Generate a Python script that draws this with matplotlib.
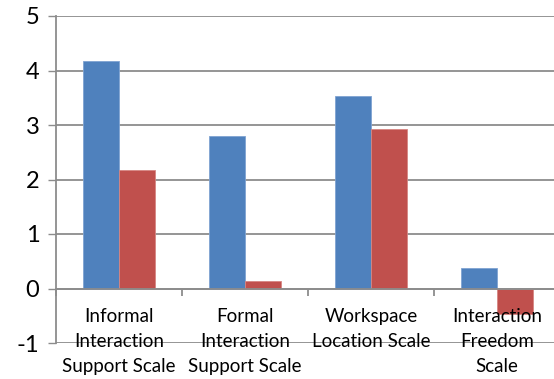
import numpy as np
import matplotlib
matplotlib.use("Agg")
import matplotlib.pyplot as plt

plt.rcParams['font.family'] = ['Lato', 'DejaVu Sans']

categories = ["Informal\nInteraction\nSupport Scale",
              "Formal\nInteraction\nSupport Scale",
              "Workspace\nLocation Scale",
              "Interaction\nFreedom\nScale"]
series_a = [4.17, 2.79, 3.54, 0.37]
series_b = [2.17, 0.13, 2.92, -0.46]
yticks = [-1, 0, 1, 2, 3, 4, 5]

blue = "#4F81BD"
red = "#C0504D"
grid = "#8C8C8C"

fig = plt.figure(figsize=(5.54, 3.79), dpi=100)
ax = fig.add_axes([56 / 554, (379 - 343) / 379, 504 / 554, 327 / 379])

x = np.arange(len(categories))
w = 0.285
ax.bar(x - w / 2, series_a, w, color=blue, edgecolor="#7FA3D2", linewidth=0.6, zorder=3)
ax.bar(x + w / 2, series_b, w, color=red, edgecolor="#D68683", linewidth=0.6, zorder=3)

ax.set_xlim(-0.5, len(categories) - 0.5)
ax.set_ylim(-1, 5)
ax.set_yticks(yticks)
ax.set_yticklabels([str(t) for t in yticks], fontsize=17, color="black")
ax.yaxis.grid(True, color=grid, linewidth=1.3, zorder=0)
ax.set_axisbelow(True)
ax.tick_params(axis='y', length=6, color=grid, width=1, pad=6)

for s in ['top', 'right']:
    ax.spines[s].set_visible(False)
ax.spines['left'].set_color(grid)
ax.spines['left'].set_linewidth(1.3)
ax.spines['bottom'].set_position(('data', 0))
ax.spines['bottom'].set_color(grid)
ax.spines['bottom'].set_linewidth(1.3)
ax.spines['bottom'].set_zorder(4)

ax.set_xticks(np.arange(len(categories) + 1) - 0.5)
ax.set_xticklabels([])
ax.tick_params(axis='x', length=5, color=grid, width=1.3, direction='out')

for i, lab in enumerate(categories):
    ax.annotate(lab, (i, 0), xytext=(0, -14), textcoords='offset points',
                ha='center', va='top', fontsize=13.5, linespacing=1.58,
                color="black", zorder=5)

fig.savefig("out.png", dpi=100)
